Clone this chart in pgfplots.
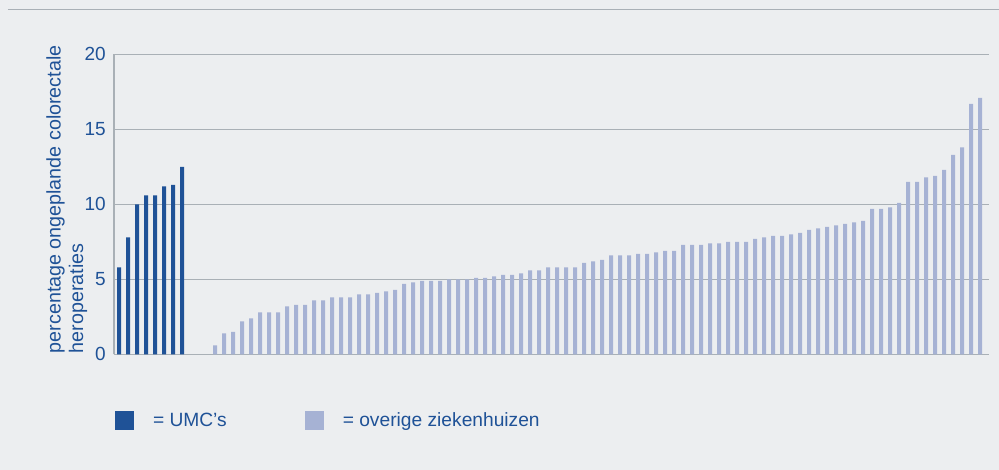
\documentclass[border=0pt]{standalone}
\usepackage{fontspec}
\setmainfont{Liberation Sans}
\usepackage{pgfplots}
\pgfplotsset{compat=1.18}
\usepackage{pgfplotstable}
\definecolor{bg}{HTML}{ECEEF0}
\definecolor{umc}{HTML}{1F5297}
\definecolor{other}{HTML}{A6B2D4}
\definecolor{gridc}{HTML}{A9B0B6}
\definecolor{txt}{HTML}{1F5297}

\pgfplotstableread{
y
5.8
7.8
10.0
10.6
10.6
11.2
11.3
12.5
}\umcdata

\pgfplotstableread{
y
0.6
1.4
1.5
2.2
2.4
2.8
2.8
2.8
3.2
3.3
3.3
3.6
3.6
3.8
3.8
3.8
4.0
4.0
4.1
4.2
4.3
4.7
4.8
4.9
4.9
4.9
5.0
5.0
5.0
5.1
5.1
5.2
5.3
5.3
5.4
5.6
5.6
5.8
5.8
5.8
5.8
6.1
6.2
6.3
6.6
6.6
6.6
6.7
6.7
6.8
6.9
6.9
7.3
7.3
7.3
7.4
7.4
7.5
7.5
7.5
7.7
7.8
7.9
7.9
8.0
8.1
8.3
8.4
8.5
8.6
8.7
8.8
8.9
9.7
9.7
9.8
10.1
11.5
11.5
11.8
11.9
12.3
13.3
13.8
16.7
17.1
}\otherdata

\begin{document}
\begin{tikzpicture}
\useasboundingbox (-114pt,-115.7pt) rectangle (885pt,354.3pt);
\fill[bg] (-114pt,-115.7pt) rectangle (885pt,354.3pt);
\draw[gridc, line width=1.2pt] (-106pt,344.8pt) -- (885pt,344.8pt);
\begin{axis}[
  at={(0pt,0pt)}, anchor=south west,
  scale only axis, width=875pt, height=300pt,
  xmin=-0.556, xmax=96.67, ymin=0, ymax=20,
  axis x line*=bottom, axis y line*=left,
  axis line style={-, draw=gridc, line width=1.3pt},
  xtick=\empty,
  ytick={0,5,10,15,20},
  major tick length=0pt,
  ymajorgrids,
  grid style={draw=gridc, line width=1.2pt},
  yticklabel style={inner sep=0pt, xshift=-8pt, text=txt, font=\fontsize{19}{20}\selectfont},
  /pgf/number format/assume math mode=true,
  ylabel={percentage ongeplande colorectale\\[2.5pt]heroperaties},
  ylabel style={at={(axis description cs:-0.0305,0.003)}, anchor=south west, align=left, inner sep=0pt, text=txt, font=\fontsize{19.7}{20}\selectfont},
  ybar, bar width=4pt, bar shift=0pt,
  legend style={at={(axis description cs:0.00114,-0.189)}, anchor=north west, draw=none, fill=none, inner sep=0pt, outer sep=0pt,
    /tikz/every odd column/.append style={column sep=19pt},
    /tikz/every even column/.append style={column sep=78pt},
    nodes={inner sep=0pt, text=txt, font=\fontsize{19.2}{20}\selectfont}},
  legend columns=2,
  legend cell align=left,
  legend image code/.code={\fill[#1] (0pt,-9.5pt) rectangle (19pt,9.5pt);},
]
\addplot[fill=umc, draw=none] table[x expr=\coordindex, y=y] {\umcdata};
\addlegendentry{= UMC’s}
\addplot[fill=other, draw=none] table[x expr=\coordindex+10.67, y=y] {\otherdata};
\addlegendentry{= overige ziekenhuizen}
\end{axis}
\end{tikzpicture}
\end{document}
